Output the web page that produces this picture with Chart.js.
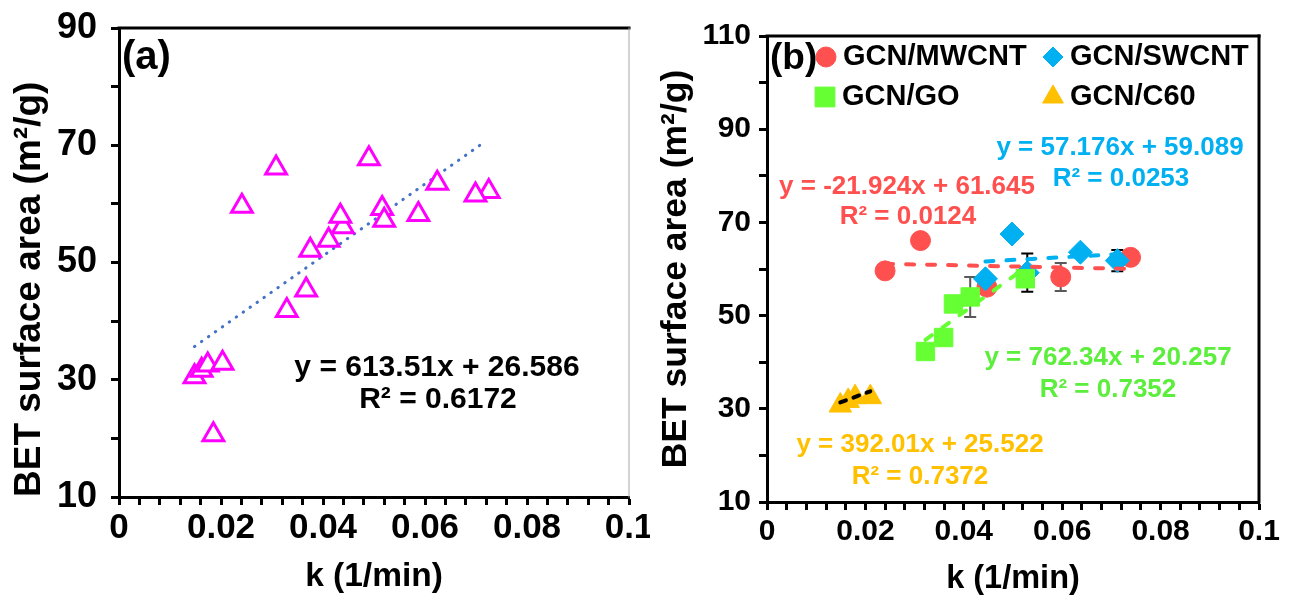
<!DOCTYPE html>
<html><head><meta charset="utf-8">
<script src="https://cdn.jsdelivr.net/npm/chart.js@4.4.0/dist/chart.umd.min.js"></script>
<style>
html,body{margin:0;padding:0;background:#fff;overflow:hidden}
#wrap{position:relative;width:1300px;height:607px;background:#fff}
.c{position:absolute;top:0}
</style></head><body>
<div id="wrap">
<canvas id="ca" class="c" style="left:0" width="650" height="607"></canvas>
<canvas id="cb" class="c" style="left:650px" width="650" height="607"></canvas>
</div>
<script>
// ---------- DATA ----------
// Panel (a): all samples
const aK   = [0.0241,0.0308,0.0439,0.0587,0.0725, 0.0434,0.0490,0.0516,0.0624,0.0699, 0.0329,0.0367,0.0375,0.0411,0.0520, 0.0148,0.0162,0.0174,0.0203, 0.0185];
const aBET = [59.6,66.1,56.1,58.2,62.1, 57.9,67.7,59.2,63.5,61.5, 41.8,45.3,52.1,53.8,57.2, 30.5,31.6,32.5,32.8, 20.6];
const aTrend = [613.51, 26.586];          // slope, intercept
const aTrendRange = [0.0148, 0.0720];

// Panel (b): by series
const seriesNames = ['GCN/MWCNT','GCN/SWCNT','GCN/GO','GCN/C60'];
const mwK  = [0.0240,0.0312,0.0447,0.0597,0.0739];
const mwBET= [59.6,66.1,56.1,58.3,62.5];
const swK  = [0.0444,0.0498,0.0529,0.0637,0.0712];
const swBET= [57.9,67.5,59.2,63.6,61.8];
const goK  = [0.0322,0.0359,0.0379,0.0413,0.0525];
const goBET= [42.3,45.3,52.5,54.0,57.9];
const c60K = [0.0149,0.0165,0.0179,0.0210];
const c60BET=[30.7,31.7,32.5,32.5];
const mwTrend = [-21.924, 61.645];
const swTrend = [57.176, 59.089];
const goTrend = [762.34, 20.257];
const c60Trend= [392.01, 25.522];
// error bars: [series index, point index, +/- value]
const errBars = [[0,3,3.0],[2,3,4.3],[1,2,4.1],[1,4,2.3]];

// tick labels
const xTickLabels = ['0','0.02','0.04','0.06','0.08','0.1'];
const aYTickLabels = ['10','30','50','70','90'];
const bYTickLabels = ['10','30','50','70','90','110'];

// ---------- HELPERS ----------
const FONT = "'Liberation Sans', Arial, sans-serif";
Chart.defaults.font.family = FONT;
Chart.defaults.font.weight = 'bold';
Chart.defaults.color = '#000';
Chart.defaults.animation = false;
const pts = (xs, ys) => xs.map((x,i)=>({x:x, y:ys[i]}));
const trendPts = (t, xs) => [{x:xs[0], y:t[0]*xs[0]+t[1]},{x:xs[1], y:t[0]*xs[1]+t[1]}];
const range = a => [Math.min(...a), Math.max(...a)];

function xScale(tickSize, axisH, titleSize, titlePad, tickPad){
  return {
    type:'linear', min:0, max:0.1,
    ticks:{stepSize:0.004, autoSkip:false, maxRotation:0, minRotation:0, padding:tickPad,
      font:{size:tickSize, weight:'bold'}, color:'#000',
      callback:(v)=>{const s=String(+(+v).toFixed(3)); return xTickLabels.includes(s)?s:'';}},
    grid:{drawOnChartArea:false, drawTicks:true, tickLength:8, tickWidth:3, tickColor:'#000'},
    border:{display:true, width:3, color:'#000'},
    title:{display:true, text:'k (1/min)', color:'#000', font:{size:titleSize, weight:'bold'}, padding:{top:0,bottom:titlePad}},
    afterFit:(s)=>{s.height=axisH; s.paddingLeft=0; s.paddingRight=0;}
  };
}
function yScale(min, max, labels, tickSize, axisW, titleSize, titlePad, tickPad, titleAlign){
  return {
    type:'linear', min:min, max:max,
    ticks:{stepSize:10, autoSkip:false, padding:tickPad, font:{size:tickSize, weight:'bold'}, color:'#000',
      callback:(v)=>{const s=String(Math.round(v)); return labels.includes(s)?s:'';}},
    grid:{drawOnChartArea:false, drawTicks:true, tickLength:8, tickWidth:3, tickColor:'#000'},
    border:{display:true, width:3, color:'#000'},
    title:{display:true, text:'BET surface area (m²/g)', color:'#000', align:titleAlign, font:{size:titleSize, weight:'bold'}, padding:{top:titlePad,bottom:0}},
    afterFit:(s)=>{s.width=axisW; s.paddingTop=0; s.paddingBottom=0;}
  };
}

// frame + text annotations
const annotPlugin = {
  id:'annot',
  afterDraw(chart, args, o){
    const ctx = chart.ctx, a = chart.chartArea;
    ctx.save();
    ctx.lineCap='square';
    ctx.strokeStyle='#000'; ctx.lineWidth=3;
    ctx.beginPath(); ctx.moveTo(a.left, a.top); ctx.lineTo(a.right, a.top); ctx.stroke();
    ctx.strokeStyle=o.rightColor; ctx.lineWidth=o.rightWidth;
    ctx.beginPath(); ctx.moveTo(a.right, a.top); ctx.lineTo(a.right, a.bottom); ctx.stroke();
    ctx.textBaseline='middle';
    (o.texts||[]).forEach(t=>{
      ctx.font = 'bold '+t.size+'px '+FONT;
      ctx.fillStyle = t.color;
      ctx.textAlign = t.align || 'center';
      ctx.fillText(t.text, a.left + t.dx, a.top + t.dy);
    });
    ctx.restore();
  }
};

// error bars (behind markers)
const errPlugin = {
  id:'errbars',
  beforeDatasetsDraw(chart, args, o){
    if(!o.bars) return;
    const ctx = chart.ctx, xs = chart.scales.x, ys = chart.scales.y;
    ctx.save();
    o.bars.forEach(([si,pi,e])=>{
      const p = chart.data.datasets[si].data[pi];
      const px = xs.getPixelForValue(p.x);
      const y1 = ys.getPixelForValue(p.y+e), y2 = ys.getPixelForValue(p.y-e);
      ctx.strokeStyle = o.colors[si]; ctx.lineWidth = 2;
      ctx.beginPath();
      ctx.moveTo(px,y1); ctx.lineTo(px,y2);
      ctx.moveTo(px-6,y1); ctx.lineTo(px+6,y1);
      ctx.moveTo(px-6,y2); ctx.lineTo(px+6,y2);
      ctx.stroke();
    });
    ctx.restore();
  }
};

// legend inside plot area (two columns)
const legendPlugin = {
  id:'legendIn',
  afterDraw(chart, args, o){
    if(!o.items) return;
    const ctx = chart.ctx, a = chart.chartArea;
    ctx.save();
    o.items.forEach((it, i)=>{
      const ds = chart.data.datasets[it.ds];
      const x = a.left + it.dx, y = a.top + it.dy;
      ctx.fillStyle = ds.backgroundColor; ctx.strokeStyle = ds.borderColor; ctx.lineWidth = 1;
      Chart.helpers.drawPoint(ctx, {pointStyle: ds.pointStyle, radius: it.r, rotation:0, borderWidth:1}, x, y);
      ctx.fillStyle = '#000';
      ctx.font = 'bold '+o.size+'px '+FONT;
      ctx.textAlign='left'; ctx.textBaseline='middle';
      ctx.fillText(ds.label, x + o.gap, y);
    });
    ctx.restore();
  }
};

// ---------- PANEL (a) ----------
new Chart(document.getElementById('ca'), {
  type:'scatter',
  data:{datasets:[
    {label:'BET', data:pts(aK,aBET), pointStyle:'triangle', radius:12, borderWidth:3,
     borderColor:'#FF00FF', backgroundColor:'#FFFFFF', order:0},
    {label:'Linear', type:'line', data:trendPts(aTrend, aTrendRange), borderColor:'#4472C4', borderWidth:3,
     borderDash:[0.5,8], borderCapStyle:'round', pointRadius:0, fill:false, order:1}
  ]},
  options:{
    responsive:false, animation:false, devicePixelRatio:1,
    layout:{padding:{left:0, top:28, right:21, bottom:0}},
    scales:{ x: xScale(35, 110, 33.5, 10, 2), y: yScale(10, 90, aYTickLabels, 36, 119, 37, 8, 14, 'start') },
    plugins:{ legend:{display:false}, tooltip:{enabled:false},
      annot:{ rightColor:'#A6A6A6', rightWidth:1, texts:[
        {text:'(a)', size:40, color:'#000', dx:3, dy:30, align:'left'},
        {text:'y = 613.51x + 26.586', size:30, color:'#000', dx:318, dy:340},
        {text:'R² = 0.6172', size:30, color:'#000', dx:319, dy:372}
      ]}
    }
  },
  plugins:[annotPlugin]
});

// ---------- PANEL (b) ----------
const RED='#FF5050', BLUE='#00B0F0', GREEN='#66FF33', ORANGE='#FFC000';
new Chart(document.getElementById('cb'), {
  type:'scatter',
  data:{datasets:[
    {label:seriesNames[0], data:pts(mwK,mwBET), pointStyle:'circle', radius:10, borderWidth:1, borderColor:RED, backgroundColor:RED, order:4},
    {label:seriesNames[1], data:pts(swK,swBET), pointStyle:'rectRot', radius:12, borderWidth:1, borderColor:BLUE, backgroundColor:BLUE, order:3},
    {label:seriesNames[2], data:pts(goK,goBET), pointStyle:'rect', radius:13, borderWidth:1, borderColor:GREEN, backgroundColor:GREEN, order:2},
    {label:seriesNames[3], data:pts(c60K,c60BET), pointStyle:'triangle', radius:13, borderWidth:1, borderColor:ORANGE, backgroundColor:ORANGE, order:1},
    {label:'trend MWCNT', type:'line', data:trendPts(mwTrend, range(mwK)), borderColor:RED, borderWidth:4, borderDash:[8,13], borderCapStyle:'round', pointRadius:0, order:0},
    {label:'trend SWCNT', type:'line', data:trendPts(swTrend, range(swK)), borderColor:BLUE, borderWidth:4, borderDash:[8,13], borderCapStyle:'round', pointRadius:0, order:0},
    {label:'trend GO', type:'line', data:trendPts(goTrend, range(goK)), borderColor:GREEN, borderWidth:4, borderDash:[8,13], borderCapStyle:'round', pointRadius:0, order:0},
    {label:'trend C60', type:'line', data:trendPts(c60Trend, range(c60K)), borderColor:'#000', borderWidth:4, borderDash:[6,8], borderCapStyle:'round', pointRadius:0, order:0}
  ]},
  options:{
    responsive:false, animation:false, devicePixelRatio:1,
    layout:{padding:{left:0, top:36, right:41, bottom:0}},
    scales:{ x: xScale(30, 105, 32.5, 8, 4), y: yScale(10, 110, bYTickLabels, 30, 117, 35.5, 5, 8, 'center') },
    plugins:{ legend:{display:false}, tooltip:{enabled:false},
      errbars:{ bars:errBars, colors:['#595959','#000000','#595959','#595959'] },
      legendIn:{ size:29, gap:17, items:[
        {ds:0, dx:59, dy:21, r:10},
        {ds:1, dx:286, dy:21, r:10},
        {ds:2, dx:58, dy:61, r:14},
        {ds:3, dx:286, dy:61, r:12}
      ]},
      annot:{ rightColor:'#000', rightWidth:3, texts:[
        {text:'(b)', size:37, color:'#000', dx:3, dy:23, align:'left'},
        {text:'y = -21.924x + 61.645', size:26, color:RED, dx:140, dy:151},
        {text:'R² = 0.0124', size:26, color:RED, dx:141, dy:181},
        {text:'y = 57.176x + 59.089', size:26, color:BLUE, dx:353, dy:112},
        {text:'R² = 0.0253', size:26, color:BLUE, dx:354, dy:143},
        {text:'y = 762.34x + 20.257', size:26, color:'#5CEE3C', dx:341, dy:322},
        {text:'R² = 0.7352', size:26, color:'#5CEE3C', dx:341, dy:354},
        {text:'y = 392.01x + 25.522', size:26, color:ORANGE, dx:153, dy:409},
        {text:'R² = 0.7372', size:26, color:ORANGE, dx:153, dy:441}
      ]}
    }
  },
  plugins:[errPlugin, legendPlugin, annotPlugin]
});
</script>
</body></html>
